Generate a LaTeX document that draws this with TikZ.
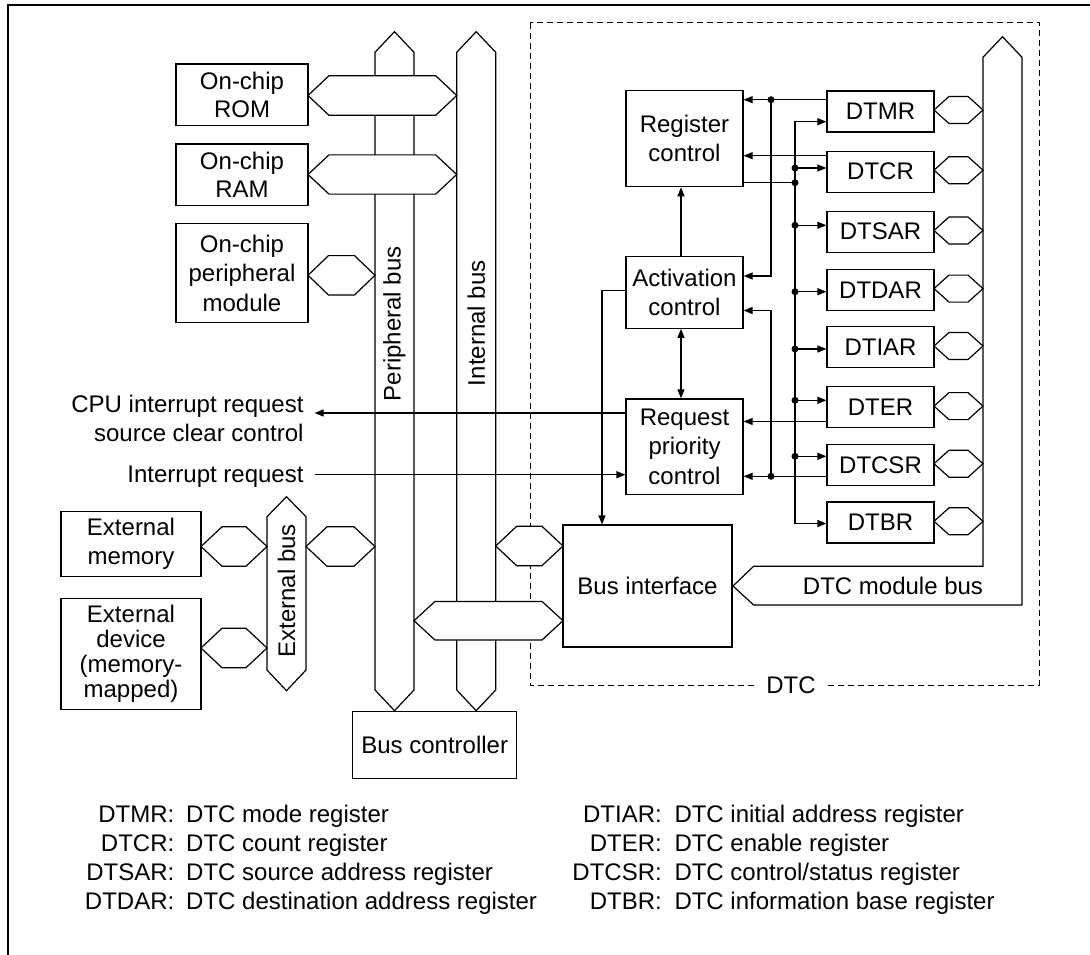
\documentclass[tikz,border=0pt]{standalone}
\usepackage{fontspec}
\setmainfont{Liberation Sans}
\usetikzlibrary{arrows.meta}
\newcommand{\myhex}[5]{\filldraw[bus] (#1,#3) -- ({#1+#5},{#3-#4}) -- ({#2-#5},{#3-#4}) -- (#2,#3) -- ({#2-#5},{#3+#4}) -- ({#1+#5},{#3+#4}) -- cycle;}
\begin{document}
\begin{tikzpicture}[x=1pt,y=-1pt,
  ln/.style={line width=1.2pt},
  arr/.style={ln, -{Triangle[length=9pt,width=7pt]}},
  darr/.style={ln, {Triangle[length=9pt,width=7pt]}-{Triangle[length=9pt,width=7pt]}},
  box/.style={draw, ln, inner sep=0pt, align=center, font=\fontsize{24}{28.5}\selectfont},
  reg/.style={box, minimum width=107pt, minimum height=41pt},
  bus/.style={draw, fill=white, ln, line join=miter},
  dot/.style={circle, fill=black, inner sep=0pt, minimum size=7pt},
  lbl/.style={inner sep=0pt, font=\fontsize{24}{29.3}\selectfont},
  dashbox/.style={line width=1pt, dash pattern=on 6pt off 4pt}]
\useasboundingbox (0,0) rectangle (1090,955);
% frame
\draw[ln] (8,955) -- (8,5) -- (1090,5);
% DTC dashed area
\draw[dashbox] (530,22.7) rectangle (1039,685);

% boxes
\node[box, minimum width=132pt, minimum height=61.3pt] (rom) at (242,94.7) {On-chip\\ROM};
\node[box, minimum width=132pt, minimum height=61.7pt] (ram) at (242,174.8) {On-chip\\RAM};
\node[box, minimum width=132pt, minimum height=99pt, font=\fontsize{24}{29.3}\selectfont] (opm) at (242,273.2) {On-chip\\peripheral\\module};
\node[box, minimum width=140pt, minimum height=65pt, font=\fontsize{24}{29.3}\selectfont] (extmem) at (131,543.8) {External\\memory};
\node[box, minimum width=140pt, minimum height=110.6pt, font=\fontsize{24}{25}\selectfont] (extdev) at (131,654) {External\\device\\(memory-\\mapped)};
\node[box, minimum width=164pt, minimum height=67pt] (busctl) at (434.7,745.2) {Bus controller};
\node[box, minimum width=117pt, minimum height=96.4pt] (regctl) at (684.5,138.5) {Register\\control};
\node[box, minimum width=117pt, minimum height=72pt] (actctl) at (684.5,292.3) {Activation\\control};
\node[box, minimum width=117pt, minimum height=95.7pt, font=\fontsize{24}{29.2}\selectfont] (reqctl) at (684.5,446.8) {Request\\priority\\control};
\node[box, minimum width=169pt, minimum height=122pt] (busif) at (647.5,586) {Bus interface};

\node[reg] (dtmr) at (880.5,111.5) {DTMR};
\node[reg] (dtcr) at (880.5,171.7) {DTCR};
\node[reg] (dtsar) at (880.5,231.7) {DTSAR};
\node[reg] (dtdar) at (880.5,289.8) {DTDAR};
\node[reg] (dtiar) at (880.5,347.2) {DTIAR};
\node[reg] (dter) at (880.5,407.2) {DTER};
\node[reg] (dtcsr) at (880.5,464.8) {DTCSR};
\node[reg] (dtbr) at (880.5,522.4) {DTBR};

% buses
\filldraw[bus] (375,52.3) -- (394.5,31.7) -- (414,52.3) -- (414,690) -- (394.5,710.7) -- (375,690) -- cycle;
\filldraw[bus] (456.7,52.3) -- (476.2,31.7) -- (495.7,52.3) -- (495.7,690) -- (476.2,710.7) -- (456.7,690) -- cycle;
\filldraw[bus] (267,516.7) -- (286.5,496.7) -- (306,516.7) -- (306,670) -- (286.5,690.7) -- (267,670) -- cycle;
\filldraw[bus] (983,57.3) -- (1002.5,36.7) -- (1022,57.3) -- (1022,605) -- (753.6,605) -- (733,586) -- (753.6,566.3) -- (983,566.3) -- cycle;

% bus links
\myhex{308}{456.7}{95.5}{19.8}{21}
\myhex{308}{456.7}{174.5}{19.6}{21}
\myhex{308}{375}{275.3}{19.7}{20.5}
\myhex{201}{267}{546.5}{19.7}{21}
\myhex{306}{375}{546.5}{19.7}{21}
\myhex{201}{267}{648}{19.7}{21}
\myhex{495.7}{563}{546}{19.7}{21}
\myhex{414}{563}{620.7}{19.3}{21}
\foreach \y in {110,170.2,230.5,288.6,346,406.1,463.7,521.3} {\myhex{934}{983}{\y}{13.5}{15}}

% bus labels
\node[lbl, rotate=90] (pbl) at (394.5,323.7) {Peripheral bus};
\node[lbl, rotate=90] (ibl) at (476.2,323.3) {Internal bus};
\node[lbl, rotate=90] (ebl) at (286.5,590.8) {External bus};
\node[lbl] (mbl) at (893,586) {DTC module bus};
\node[lbl, fill=white, inner xsep=9pt, inner ysep=2pt] (dtc) at (791,685) {DTC};

% control connections
\coordinate (jA) at (771,99.7);
\coordinate (jB) at (771,276);
\coordinate (jC) at (771,476.3);
\coordinate (jD) at (771,310.5);
\coordinate (k1) at (771,155.7);
\coordinate (k2) at (771,421.5);
\draw[arr] (dtmr.west |- jA) -- (regctl.east |- jA);
\draw[arr] (jA) -- (jB) -- (actctl.east |- jB);
\draw[arr] (dtcsr.west |- jC) -- (reqctl.east |- jC);
\draw[arr] (jC) -- (jD) -- (actctl.east |- jD);
\draw[arr] (dtcr.west |- k1) -- (regctl.east |- k1);
\draw[arr] (dter.west |- k2) -- (reqctl.east |- k2);
\node[dot] (dA) at (jA) {};
\node[dot] (dC) at (jC) {};

\coordinate (rt) at (795,121.7);
\coordinate (rb) at (795,523.5);
\draw[darr] (dtmr.west |- rt) -- (rt) -- (rb) -- (dtbr.west |- rb);
\foreach \n/\y in {dtcr/168, dtsar/225.3, dtdar/291.7, dtiar/349, dter/400.3, dtcsr/456.3} {
  \node[dot] (d-\n) at (795,\y) {};
  \draw[arr] (d-\n.center) -- (\n.west |- d-\n.center);
}
\node[dot] (dreg) at (795,182.7) {};
\draw[ln] (regctl.east |- dreg) -- (dreg.center);

\coordinate (ax) at (681,0);
\draw[arr] (actctl.north -| ax) -- (regctl.south -| ax);
\draw[darr] (actctl.south -| ax) -- (reqctl.north -| ax);

\coordinate (bx) at (602,290.7);
\draw[arr] (actctl.west |- bx) -- (bx) -- (busif.north -| bx);

% interrupt lines
\node[lbl, anchor=east, align=right] (cpu) at (303.7,418.7) {CPU interrupt request\\source clear control};
\coordinate (cpuend) at (314.6,413);
\draw[arr] (reqctl.west |- cpuend) -- (cpuend);
\node[lbl, anchor=base east] (irq) at (303.7,482.6) {Interrupt request};
\coordinate (irqstart) at (314.6,474.7);
\draw[arr] (irqstart) -- (reqctl.west |- irqstart);

% legend
\node[lbl, anchor=base east] (l1a) at (174.5,822) {DTMR:};
\node[lbl, anchor=base west] (l1b) at (186,822) {DTC mode register};
\node[lbl, anchor=base east] (l2a) at (174.5,851.2) {DTCR:};
\node[lbl, anchor=base west] (l2b) at (186,851.2) {DTC count register};
\node[lbl, anchor=base east] (l3a) at (174.5,880.4) {DTSAR:};
\node[lbl, anchor=base west] (l3b) at (186,880.4) {DTC source address register};
\node[lbl, anchor=base east] (l4a) at (174.5,909.6) {DTDAR:};
\node[lbl, anchor=base west] (l4b) at (186,909.6) {DTC destination address register};
\node[lbl, anchor=base east] (r1a) at (662,822) {DTIAR:};
\node[lbl, anchor=base west] (r1b) at (674.3,822) {DTC initial address register};
\node[lbl, anchor=base east] (r2a) at (662,851.2) {DTER:};
\node[lbl, anchor=base west] (r2b) at (674.3,851.2) {DTC enable register};
\node[lbl, anchor=base east] (r3a) at (662,880.4) {DTCSR:};
\node[lbl, anchor=base west] (r3b) at (674.3,880.4) {DTC control/status register};
\node[lbl, anchor=base east] (r4a) at (662,909.6) {DTBR:};
\node[lbl, anchor=base west] (r4b) at (674.3,909.6) {DTC information base register};
\end{tikzpicture}
\end{document}
